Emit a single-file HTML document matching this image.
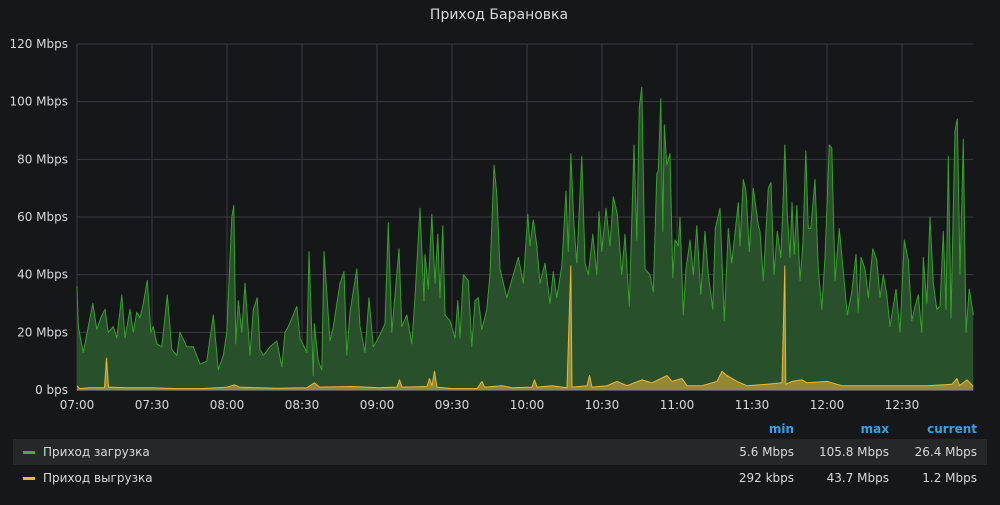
<!DOCTYPE html>
<html><head><meta charset="utf-8">
<style>
html,body{margin:0;padding:0;background:#161719;}
body{width:1000px;height:500px;overflow:hidden;font-family:"Liberation Sans","DejaVu Sans",sans-serif;color:#d8d9da;}
svg text{font-family:"DejaVu Sans","Liberation Sans",sans-serif;}
</style></head>
<body>
<svg id="chart" width="1000" height="500">
<text x="499" y="19" text-anchor="middle" font-size="14" fill="#d8d9da">Приход Барановка</text>
<g id="grid"></g>
<g id="series"></g>
<g id="axes"></g>
<g>
<text x="794" y="433" text-anchor="end" font-size="12" font-weight="bold" fill="#33a2e5">min</text>
<text x="889" y="433" text-anchor="end" font-size="12" font-weight="bold" fill="#33a2e5">max</text>
<text x="977" y="433" text-anchor="end" font-size="12" font-weight="bold" fill="#33a2e5">current</text>
<rect x="13" y="439" width="974" height="26" fill="#262729"/>
<g>
<rect x="23" y="451" width="12" height="3" fill="#37b72d"/>
<text x="43" y="456" font-size="12" fill="#d8d9da">Приход загрузка</text>
<text x="794" y="456" text-anchor="end" font-size="12" fill="#d8d9da">5.6 Mbps</text>
<text x="889" y="456" text-anchor="end" font-size="12" fill="#d8d9da">105.8 Mbps</text>
<text x="977" y="456" text-anchor="end" font-size="12" fill="#d8d9da">26.4 Mbps</text>
</g>
<g>
<rect x="23" y="477" width="12" height="3" fill="#eab839"/>
<text x="43" y="482" font-size="12" fill="#d8d9da">Приход выгрузка</text>
<text x="794" y="482" text-anchor="end" font-size="12" fill="#d8d9da">292 kbps</text>
<text x="889" y="482" text-anchor="end" font-size="12" fill="#d8d9da">43.7 Mbps</text>
<text x="977" y="482" text-anchor="end" font-size="12" fill="#d8d9da">1.2 Mbps</text>
</g>
</g>
</svg>
<script>
const yTicks=[0,20,40,60,80,100,120];
const yTickLabels=["0 bps","20 Mbps","40 Mbps","60 Mbps","80 Mbps","100 Mbps","120 Mbps"];
const xTicks=[0,30,60,90,120,150,180,210,240,270,300,330];
const xTickLabels=["07:00","07:30","08:00","08:30","09:00","09:30","10:00","10:30","11:00","11:30","12:00","12:30"];
const downT=[0,0.5,2.5,4.5,6.3,7.9,9.5,11.2,12.5,14.5,15.9,17.9,19.2,21.2,22.5,23.9,25.2,26.5,28.1,29.5,30.5,31.9,33.9,36.1,37.9,39.9,41.2,43.9,46.5,49.2,51.9,54.5,56.5,58.5,59.9,61.9,62.7,63.5,64.5,65.9,67.2,69.2,70.5,72.1,73.2,74.5,77.2,79.9,81.9,83.2,84.5,87.9,89.2,
91.9,92.8,94.5,94.9,96.5,97.9,98.8,101.2,102.5,105.2,106.8,107.9,109.2,111.9,113.2,115.2,116.8,118.5,120.5,123.2,124.5,125.9,128.8,129.9,131.9,133.9,135.2,137.2,138.8,139.2,140.5,141.9,143.2,144.3,145.2,146.3,147.2,149.2,151.2,152.3,153.2,154.5,156.5,157.9,159.2,160.5,161.9,163.9,165.2,166.8,167.9,169.2,171.9,174.5,176.5,178.5,180.3,181.2,
182.5,183.9,185.2,187.2,189.2,190.5,191.9,193.9,195.6,196.5,197.5,198.8,199.9,201.9,203.2,204.5,206.3,207.9,208.8,209.9,211.6,213.2,214.5,216.1,217.9,219.2,220.9,222.8,223.9,224.9,225.9,227.2,229.2,230.5,231.9,232.5,233.5,234.3,234.9,235.9,237.2,238.3,239.2,240.5,241.2,242.5,243.6,245.2,246.5,247.9,249.5,251.2,252.5,254.3,255.3,257.2,258.9,260.5,261.9,264.5,265.2,266.5,267.6,268.9,270.5,272.5,
273.2,274.5,276.5,277.6,278.8,280.1,281.5,282.3,283.1,284.1,285.2,286,286.9,287.9,289.2,290.3,291.5,292.5,293.5,295.2,296.5,297.9,299.2,300.9,301.9,303.2,304.9,306.3,308.1,309.9,311.6,312.5,313.6,315.2,316.5,318.3,319.9,321.2,322.5,323.9,325.2,327.6,329.2,330.9,332.5,333.9,335.2,336.5,337.9,338.5,339.9,341.2,342.5,343.9,345.2,346.5,347.6,348.5,349.6,351.2,352.1,353.2,354.5,355.6,356.9,358.5];
const downV=[36,22,13,22,30,21,25,28,20,22,18,33,18,28,20,27,25,30,38,20,22,16,15,33,14,12,20,15,15,9,10,26,7,12,20,60,64,16,31,20,37,12,28,32,14,12,15,17,8,20,22,29,18,
13,48,5,23,10,7,48,17,22,37,41,12,27,42,22,13,32,15,18,23,58,20,49,22,26,16,32,63,31,47,35,61,37,54,32,57,26,24,18,31,18,40,38,15,31,32,21,28,40,78,68,42,32,40,46,37,61,50,
59,50,37,44,30,41,32,43,69,48,82,57,44,81,44,40,54,40,62,48,63,50,67,61,40,54,29,85,52,98,105,42,40,34,75,76,101,55,92,78,82,39,52,50,60,26,42,52,40,57,33,55,40,28,56,63,24,56,44,65,50,73,69,48,70,57,
55,38,70,72,40,55,46,62,85,61,46,65,47,64,38,50,83,56,56,73,42,28,46,85,84,38,56,43,26,34,47,27,46,42,32,49,45,32,40,33,22,35,20,52,45,24,29,33,20,46,30,60,37,28,29,55,28,81,25,90,94,40,87,20,35,26];
const upT=[0,1,5,11,11.8,12.6,20,30,40,50,60,63,65,80,92,95,97,110,121,128,129,130,140,141,142,143,144,150,160,162,163,170,174,182,183,184,190,196,197.5,198,204,205,206,212,216,220,226,230,236,238,242,244,250,256,258,260,264,268,276,282,283.1,283.5,286,290,292,300,306,320,340,350,352,353,356,358.5];
const upV=[1.5,0.5,0.8,0.8,11,1,0.8,0.8,0.5,0.5,1,1.8,1,0.6,0.8,2.5,1,1.2,0.8,1,3.5,1,1.2,4,1.5,6.5,1,0.5,0.5,3,1,1.5,0.8,1,3.5,1,1.5,0.8,43,1,1.5,5,1,1.5,3,1.5,3.5,2.5,5,3,4,1.5,1.5,3,6.5,5,3,1.5,2,2.5,43,2,3,3.5,2.5,3,1.5,1.5,1.5,2,4,1.5,3.5,1.2];

const NS="http://www.w3.org/2000/svg";
const X0=77,PXMIN=2.5,Y0=390,PXMB=346/120;
function xs(t){return X0+t*PXMIN;}
function ys(v){return Y0-v*PXMB;}
const XEND=xs(358.5);
const grid=document.getElementById('grid'),axes=document.getElementById('axes'),ser=document.getElementById('series');
function mk(tag,attrs,parent){const e=document.createElementNS(NS,tag);for(const k in attrs)e.setAttribute(k,attrs[k]);parent.appendChild(e);return e;}
yTicks.forEach((v,i)=>{
  const l=mk('line',{x1:X0,x2:XEND,y1:ys(v),y2:ys(v),stroke:'#3a3b3e','stroke-width':1},grid);
  
  
  const t=mk('text',{x:68,y:ys(v)+4,'text-anchor':'end','font-size':12,fill:'#d8d9da'},axes);
  t.textContent=yTickLabels[i];
  
  
});
xTicks.forEach((m,i)=>{
  const l=mk('line',{x1:xs(m),x2:xs(m),y1:44,y2:Y0,stroke:'#3a3b3e','stroke-width':1},grid);
  
  
  const t=mk('text',{x:xs(m),y:409,'text-anchor':'middle','font-size':12,fill:'#d8d9da'},axes);
  t.textContent=xTickLabels[i];
  
  
});
const ax=mk('line',{x1:X0,x2:XEND,y1:Y0+0.5,y2:Y0+0.5,stroke:'#555','stroke-width':1},axes);


function series(T,V,fill,stroke,name){
  let d='';T.forEach((t,i)=>{d+=(i?'L':'M')+xs(t).toFixed(1)+','+ys(V[i]).toFixed(1);});
  const area=mk('path',{d:d+'L'+xs(T[T.length-1])+','+Y0+'L'+xs(T[0])+','+Y0+'Z',fill:fill,stroke:'none'},ser);
  
  
  const line=mk('path',{d:d,fill:'none',stroke:stroke,'stroke-width':1,'stroke-linejoin':'round'},ser);
  
  
}
series(downT,downV,'#28502a','#37a02d','download-series');
series(upT,upV,'rgba(234,184,57,0.55)','#eab839','upload-series');
</script>
</body></html>
